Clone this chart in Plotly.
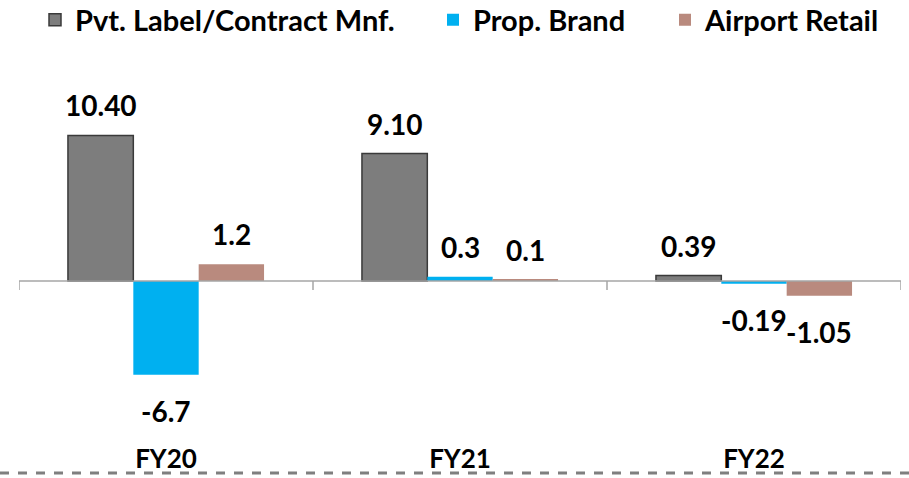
import plotly.graph_objects as go

categories = ["FY20", "FY21", "FY22"]
series_names = ["Pvt. Label/Contract Mnf.", "Prop. Brand", "Airport Retail"]
pvt_label = [10.40, 9.10, 0.39]
prop_brand = [-6.7, 0.3, -0.19]
airport_retail = [1.2, 0.1, -1.05]
value_labels = [["10.40", "9.10", "0.39"], ["-6.7", "0.3", "-0.19"], ["1.2", "0.1", "-1.05"]]

series_values = [pvt_label, prop_brand, airport_retail]
colors = ["#7d7d7d", "#00b0f0", "#b98a7e"]
line_colors = ["#3a3a3a", "#00b0f0", "#b98a7e"]

FONT = "Lato"
W, H = 909, 478
ml, mr, mt, mb = 19, 8, 60, 37
bargap = 0.333
n = len(series_values)
bw = (1 - bargap) / n
xs = list(range(len(categories)))
pw = W - ml - mr
plot_h = H - mt - mb

legend_names = ["legend", "legend2", "legend3"]
legend_left_px = [35, 433, 665]

fig = go.Figure()
for i, (name, vals) in enumerate(zip(series_names, series_values)):
    fig.add_trace(go.Bar(
        x=xs, y=vals, name=name, legend=legend_names[i],
        marker=dict(color=colors[i], line=dict(color=line_colors[i], width=1.5 if i == 0 else 0)),
    ))

ppu = 14.0
zero_px = 221
ymax = zero_px / ppu
ymin = -(plot_h - zero_px) / ppu

annotations = []
for i, vals in enumerate(series_values):
    for j, v in enumerate(vals):
        xpos = j + (i - (n - 1) / 2) * bw
        annotations.append(dict(
            x=xpos, y=v, xref="x", yref="y", text=value_labels[i][j], showarrow=False,
            yshift=(30 if v >= 0 else -36), yanchor="middle",
            font=dict(family=FONT, size=28, color="black", weight="bold"),
        ))

shapes = []
x0, x1 = -0.5, len(categories) - 0.5
shapes.append(dict(type="line", xref="x", yref="y", x0=x0, x1=x1, y0=0, y1=0,
                   line=dict(color="#a6a6a6", width=1.5)))
tick_len_units = 9 / ppu
for k in range(len(categories) + 1):
    shapes.append(dict(type="line", xref="x", yref="y", x0=x0 + k, x1=x0 + k, y0=0, y1=-tick_len_units,
                       line=dict(color="#a6a6a6", width=1.5)))
dash_y = -(473 - (H - mb)) / plot_h
shapes.append(dict(type="line", xref="paper", yref="paper", x0=-ml / pw, x1=1 + mr / pw,
                   y0=dash_y, y1=dash_y,
                   line=dict(color="#7f7f7f", width=3, dash="dash")))

legend_font = dict(family=FONT, size=29, color="black", weight="bold")
legends = {}
for ln, lx in zip(legend_names, legend_left_px):
    legends[ln] = dict(orientation="h", x=(lx - ml) / pw, y=1 + (mt - 20) / plot_h, xanchor="left",
                       yanchor="middle", font=legend_font, itemwidth=30, bgcolor="rgba(0,0,0,0)")

fig.update_layout(
    width=W, height=H,
    margin=dict(l=ml, r=mr, t=mt, b=mb, autoexpand=False),
    paper_bgcolor="white", plot_bgcolor="white",
    barmode="group", bargap=bargap, bargroupgap=0,
    showlegend=True,
    xaxis=dict(tickvals=xs, ticktext=categories, range=[x0, x1], showgrid=False, zeroline=False,
               showline=False, ticks="", tickfont=dict(family=FONT, size=26, color="black", weight="bold")),
    yaxis=dict(range=[ymin, ymax], showgrid=False, zeroline=False, showticklabels=False, showline=False),
    annotations=annotations,
    shapes=shapes,
    **legends,
)

fig.write_html("out.html", config={"displayModeBar": False},
               post_script="document.body.style.margin='0';")
